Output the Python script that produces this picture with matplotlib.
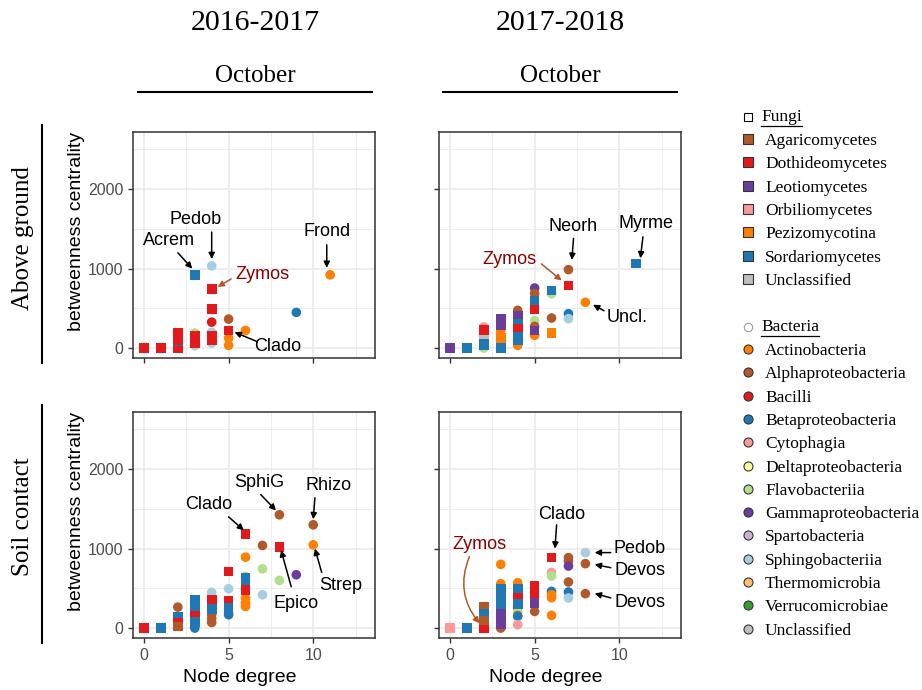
import matplotlib
matplotlib.use("Agg")
import matplotlib.pyplot as plt
from matplotlib.lines import Line2D

W, H = 922, 690
SERIF = "Liberation Serif"
SANS = "Liberation Sans"

# ---------------- colours ----------------
fungi_classes = ["Agaricomycetes", "Dothideomycetes", "Leotiomycetes", "Orbiliomycetes",
                 "Pezizomycotina", "Sordariomycetes", "Unclassified"]
fungi_colors = ["#B15928", "#E31A1C", "#6A3D9A", "#FB9A99", "#FF7F00", "#1F78B4", "#BEBEBE"]
bact_classes = ["Actinobacteria", "Alphaproteobacteria", "Bacilli", "Betaproteobacteria",
                "Cytophagia", "Deltaproteobacteria", "Flavobacteriia", "Gammaproteobacteria",
                "Spartobacteria", "Sphingobacteriia", "Thermomicrobia", "Verrucomicrobiae",
                "Unclassified"]
bact_colors = ["#FF7F00", "#B15928", "#E31A1C", "#1F78B4", "#FB9A99", "#FFFF99", "#B2DF8A",
               "#6A3D9A", "#CAB2D6", "#A6CEE3", "#FDBF6F", "#33A02C", "#BEBEBE"]
FC = dict(zip(fungi_classes, fungi_colors))
BC = dict(zip(bact_classes, bact_colors))

# ---------------- data ----------------
# Above ground 2016-2017
ag16_f_deg = [0, 1, 2, 2, 2, 2, 3, 3, 3, 4, 4, 4, 4, 5]
ag16_f_val = [0, 0, 0, 90, 100, 190, 922, 150, 60, 742, 495, 96, 150, 222]
ag16_f_cls = ["Dothideomycetes", "Dothideomycetes", "Dothideomycetes", "Sordariomycetes",
              "Dothideomycetes", "Dothideomycetes", "Sordariomycetes", "Dothideomycetes",
              "Dothideomycetes", "Dothideomycetes", "Dothideomycetes", "Dothideomycetes",
              "Dothideomycetes", "Dothideomycetes"]
ag16_b_deg = [3, 3, 3, 4, 4, 4, 4, 5, 5, 5, 6, 9, 11]
ag16_b_val = [190, 60, 30, 1035, 327, 200, 63, 365, 126, 34, 222, 449, 922]
ag16_b_cls = ["Flavobacteriia", "Flavobacteriia", "Sphingobacteriia", "Sphingobacteriia",
              "Bacilli", "Sphingobacteriia", "Sphingobacteriia", "Alphaproteobacteria",
              "Actinobacteria", "Actinobacteria", "Actinobacteria", "Betaproteobacteria",
              "Actinobacteria"]

# Above ground 2017-2018
ag17_f_deg = [0, 1, 2, 2, 2, 2, 3, 3, 3, 3, 3, 4, 4, 4, 4, 4, 5, 5, 5, 6, 6, 7, 11]
ag17_f_val = [0, 0, 30, 70, 172, 230, 370, 290, 0, 60, 130, 410, 307, 245, 140, 100,
              600, 487, 223, 727, 189, 790, 1063]
ag17_f_cls = ["Leotiomycetes", "Sordariomycetes", "Sordariomycetes", "Sordariomycetes",
              "Unclassified", "Dothideomycetes", "Leotiomycetes", "Leotiomycetes",
              "Sordariomycetes", "Sordariomycetes", "Pezizomycotina", "Leotiomycetes",
              "Sordariomycetes", "Dothideomycetes", "Sordariomycetes", "Sordariomycetes",
              "Sordariomycetes", "Dothideomycetes", "Leotiomycetes", "Sordariomycetes",
              "Pezizomycotina", "Dothideomycetes", "Sordariomycetes"]
ag17_b_deg = [2, 2, 3, 3, 4, 4, 5, 5, 5, 5, 5, 6, 6, 7, 7, 7, 8]
ag17_b_val = [265, 0, 220, 170, 475, 34, 756, 685, 345, 273, 160, 685, 378, 987, 433, 370, 576]
ag17_b_cls = ["Cytophagia", "Flavobacteriia", "Actinobacteria", "Actinobacteria",
              "Alphaproteobacteria", "Actinobacteria", "Gammaproteobacteria",
              "Alphaproteobacteria", "Flavobacteriia", "Alphaproteobacteria", "Actinobacteria",
              "Flavobacteriia", "Alphaproteobacteria", "Alphaproteobacteria",
              "Betaproteobacteria", "Sphingobacteriia", "Actinobacteria"]

# Soil contact 2016-2017
sc16_f_deg = [0, 1, 2, 2, 2, 3, 3, 3, 3, 4, 4, 5, 5, 5, 6, 6, 6, 6, 8]
sc16_f_val = [0, 0, 140, 60, 20, 360, 280, 160, 80, 356, 240, 713, 348, 252, 1187, 630, 566,
              480, 1019]
sc16_f_cls = ["Dothideomycetes", "Sordariomycetes", "Sordariomycetes", "Dothideomycetes",
              "Agaricomycetes", "Sordariomycetes", "Sordariomycetes", "Dothideomycetes",
              "Sordariomycetes", "Dothideomycetes", "Sordariomycetes", "Dothideomycetes",
              "Dothideomycetes", "Sordariomycetes", "Dothideomycetes", "Sordariomycetes",
              "Sordariomycetes", "Dothideomycetes", "Dothideomycetes"]
sc16_b_deg = [2, 3, 3, 4, 4, 4, 4, 4, 5, 5, 5, 6, 6, 6, 6, 6, 7, 7, 7, 8, 8, 9, 10, 10]
sc16_b_val = [264, 30, 0, 450, 400, 170, 120, 70, 495, 189, 168, 893, 650, 377, 315, 272,
              1040, 746, 419, 1426, 600, 671, 1300, 1048]
sc16_b_cls = ["Alphaproteobacteria", "Sphingobacteriia", "Betaproteobacteria",
              "Sphingobacteriia", "Sphingobacteriia", "Alphaproteobacteria",
              "Alphaproteobacteria", "Alphaproteobacteria", "Sphingobacteriia", "Cytophagia",
              "Betaproteobacteria", "Actinobacteria", "Flavobacteriia", "Actinobacteria",
              "Actinobacteria", "Actinobacteria", "Alphaproteobacteria", "Flavobacteriia",
              "Sphingobacteriia", "Alphaproteobacteria", "Flavobacteriia",
              "Gammaproteobacteria", "Alphaproteobacteria", "Actinobacteria"]

# Soil contact 2017-2018
sc17_f_deg = [0, 1, 2, 2, 2, 2, 3, 3, 3, 3, 3, 4, 4, 4, 5, 5, 5, 6]
sc17_f_val = [0, 0, 0, 265, 180, 97, 496, 400, 300, 180, 55, 496, 378, 300, 538, 440, 319, 887]
sc17_f_cls = ["Orbiliomycetes", "Sordariomycetes", "Dothideomycetes", "Agaricomycetes",
              "Sordariomycetes", "Agaricomycetes", "Sordariomycetes", "Sordariomycetes",
              "Sordariomycetes", "Leotiomycetes", "Leotiomycetes", "Sordariomycetes",
              "Dothideomycetes", "Sordariomycetes", "Dothideomycetes", "Dothideomycetes",
              "Leotiomycetes", "Dothideomycetes"]
sc17_b_deg = [3, 3, 3, 3, 3, 4, 4, 4, 4, 4, 4, 5, 5, 6, 6, 6, 6, 6, 6, 7, 7, 7, 7, 7, 7,
              8, 8, 8]
sc17_b_val = [802, 559, 0, 240, 230, 571, 256, 200, 160, 150, 42, 454, 210, 700, 655, 462,
              420, 382, 160, 887, 845, 781, 580, 454, 378, 950, 811, 433]
sc17_b_cls = ["Actinobacteria", "Actinobacteria", "Alphaproteobacteria", "Actinobacteria",
              "Sphingobacteriia", "Actinobacteria", "Alphaproteobacteria", "Flavobacteriia",
              "Actinobacteria", "Betaproteobacteria", "Cytophagia", "Flavobacteriia",
              "Alphaproteobacteria", "Cytophagia", "Flavobacteriia", "Betaproteobacteria",
              "Actinobacteria", "Actinobacteria", "Actinobacteria", "Alphaproteobacteria",
              "Alphaproteobacteria", "Gammaproteobacteria", "Alphaproteobacteria",
              "Betaproteobacteria", "Sphingobacteriia", "Sphingobacteriia",
              "Alphaproteobacteria", "Alphaproteobacteria"]

# annotations: label, text pos, arrow start, arrow end, highlight
ann_ag16 = [("Pedob", (3.05, 1620), (4.0, 1460), (4.0, 1120), False),
            ("Acrem", (1.5, 1350), (2.0, 1200), (2.85, 1000), False),
            ("Zymos", (7.0, 930), (5.15, 870), (4.35, 770), True),
            ("Frond", (10.8, 1470), (10.8, 1300), (10.8, 1010), False),
            ("Clado", (7.9, 25), (6.7, 80), (5.35, 200), False)]
ann_ag17 = [("Neorh", (7.3, 1530), (7.3, 1380), (7.2, 1110), False),
            ("Myrme", (11.6, 1570), (11.4, 1400), (11.25, 1130), False),
            ("Zymos", (3.5, 1110), (5.4, 1060), (6.6, 850), True),
            ("Uncl.", (10.45, 390), (9.1, 470), (8.45, 545), False)]
ann_sc16 = [("Clado", (3.85, 1555), (5.0, 1400), (5.9, 1230), False),
            ("SphiG", (6.8, 1830), (6.9, 1680), (7.8, 1480), False),
            ("Rhizo", (10.9, 1795), (10.1, 1640), (10.0, 1370), False),
            ("Strep", (11.6, 535), (10.5, 700), (10.1, 1000), False),
            ("Epico", (9.0, 315), (8.7, 520), (8.1, 980), False)]
ann_sc17 = [("Clado", (6.6, 1430), (6.3, 1300), (6.2, 1000), False),
            ("Pedob", (11.2, 1000), (9.5, 950), (8.55, 950), False),
            ("Devos", (11.2, 725), (9.5, 760), (8.55, 800), False),
            ("Devos", (11.2, 320), (9.5, 380), (8.55, 435), False),
            ("Zymos", (1.75, 1050), (1.15, 900), (1.75, 60), True)]

col_titles = ["2016-2017", "2017-2018"]
sub_titles = ["October", "October"]
row_titles = ["Above ground", "Soil contact"]
x_ticks = [0, 5, 10]
y_ticks = [0, 1000, 2000]

# ---------------- figure ----------------
fig = plt.figure(figsize=(W / 100, H / 100), dpi=100)
fig.patch.set_facecolor("white")

def fx(p):
    return p / W

def fy(p):
    return 1 - p / H

panel_px = {(0, 0): (133, 132, 375, 358), (0, 1): (439, 132, 681, 358),
            (1, 0): (133, 412, 375, 638), (1, 1): (439, 412, 681, 638)}

panels = {
    (0, 0): (ag16_f_deg, ag16_f_val, ag16_f_cls, ag16_b_deg, ag16_b_val, ag16_b_cls, ann_ag16),
    (0, 1): (ag17_f_deg, ag17_f_val, ag17_f_cls, ag17_b_deg, ag17_b_val, ag17_b_cls, ann_ag17),
    (1, 0): (sc16_f_deg, sc16_f_val, sc16_f_cls, sc16_b_deg, sc16_b_val, sc16_b_cls, ann_sc16),
    (1, 1): (sc17_f_deg, sc17_f_val, sc17_f_cls, sc17_b_deg, sc17_b_val, sc17_b_cls, ann_sc17),
}

MS = 48
for (r, c), (fd, fv, fcl, bd, bv, bcl, anns) in panels.items():
    l, t, rgt, b = panel_px[(r, c)]
    ax = fig.add_axes([fx(l), fy(b), (rgt - l) / W, (b - t) / H])
    ax.set_xlim(-0.65, 13.65)
    ax.set_ylim(-125, 2720)
    ax.set_xticks(x_ticks)
    ax.set_yticks(y_ticks)
    ax.set_xticks([2.5, 7.5, 12.5], minor=True)
    ax.set_yticks([500, 1500, 2500], minor=True)
    ax.grid(True, which="major", color="#EBEBEB", lw=1.2, zorder=0)
    ax.grid(True, which="minor", color="#EBEBEB", lw=0.6, zorder=0)
    ax.set_axisbelow(True)
    for s in ax.spines.values():
        s.set_color("#333333")
        s.set_linewidth(1.1)
    ax.tick_params(which="major", length=3.5, width=1, color="#333333",
                   labelcolor="#4D4D4D", labelsize=11.5)
    ax.tick_params(which="minor", length=0)
    for lab in ax.get_xticklabels() + ax.get_yticklabels():
        lab.set_family(SANS)
    if r == 0:
        ax.set_xticklabels([])
    else:
        ax.set_xlabel("Node degree", fontsize=14, family=SANS)
        ax.xaxis.set_label_coords(0.442, -0.135)
    if c == 1:
        ax.set_yticklabels([])
    else:
        ax.set_ylabel("betweenness centrality", fontsize=14, family=SANS)
        ax.yaxis.set_label_coords(-0.20, 0.562)

    ax.scatter(bd, bv, c=[BC[k] for k in bcl], marker="o", s=MS, linewidths=0, zorder=3)
    ax.scatter(fd, fv, c=[FC[k] for k in fcl], marker="s", s=MS, linewidths=0, zorder=4)

    for lab, tp, a0, a1, hi in anns:
        ax.text(tp[0], tp[1], lab, fontsize=13, family=SANS, ha="center", va="center",
                color="#8B0000" if hi else "black", zorder=6)
        if hi and (r, c) == (1, 1):
            cs = "arc3,rad=0.3"
        else:
            cs = "arc3,rad=0"
        ax.annotate("", xy=a1, xytext=a0,
                    arrowprops=dict(arrowstyle="-|>", color="#B5562A" if hi else "black",
                                    lw=1.1, mutation_scale=9, shrinkA=0, shrinkB=0,
                                    connectionstyle=cs), zorder=6)

# column headers
for cx, ct, st in [(255, col_titles[0], sub_titles[0]), (560, col_titles[1], sub_titles[1])]:
    fig.text(fx(cx), fy(23), ct, fontsize=21.5, family=SERIF, ha="center", va="center")
    fig.text(fx(cx), fy(76), st, fontsize=18, family=SERIF, ha="center", va="center")
    fig.add_artist(Line2D([fx(cx - 117), fx(cx + 117)], [fy(92), fy(92)],
                          color="black", lw=1.5, transform=fig.transFigure))

# row headers
for cy, rt, (y0, y1) in [(238, row_titles[0], (125, 363)), (517, row_titles[1], (405, 643))]:
    fig.text(fx(23), fy(cy), rt, fontsize=18, family=SERIF, rotation=90,
             ha="center", va="center")
    fig.add_artist(Line2D([fx(42), fx(42)], [fy(y0), fy(y1)], color="black", lw=1.5,
                          transform=fig.transFigure))

# legend
def legend_block(title, header_y, classes, colors, marker, header_edge):
    fig.add_artist(Line2D([fx(748)], [fy(header_y)], marker=marker, markersize=6,
                          markerfacecolor="white", markeredgecolor=header_edge,
                          markeredgewidth=0.8, lw=0, transform=fig.transFigure))
    ht = fig.text(fx(761), fy(header_y), title, fontsize=12.5, family=SERIF,
                  ha="left", va="center")
    for i, (name, col) in enumerate(zip(classes, colors)):
        yy = header_y + 24 + i * 23.3
        fig.add_artist(Line2D([fx(748)], [fy(yy - 2)], marker=marker, markersize=6.5,
                              markerfacecolor=col, markeredgecolor="#333333",
                              markeredgewidth=0.8, lw=0, transform=fig.transFigure))
        fig.text(fx(765), fy(yy), name, fontsize=12.5, family=SERIF, ha="left", va="center")
    return ht

ft = legend_block("Fungi", 117, fungi_classes, fungi_colors, "s", "black")
bt = legend_block("Bacteria", 327, bact_classes, bact_colors, "o", "#999999")

fig.canvas.draw()
rend = fig.canvas.get_renderer()
for t in (ft, bt):
    bb = t.get_window_extent(renderer=rend)
    yline = bb.y0 - 1
    fig.add_artist(Line2D([bb.x0 / W, bb.x1 / W], [yline / H, yline / H], color="black",
                          lw=0.9, transform=fig.transFigure))

fig.savefig("out.png", dpi=100, facecolor="white")
